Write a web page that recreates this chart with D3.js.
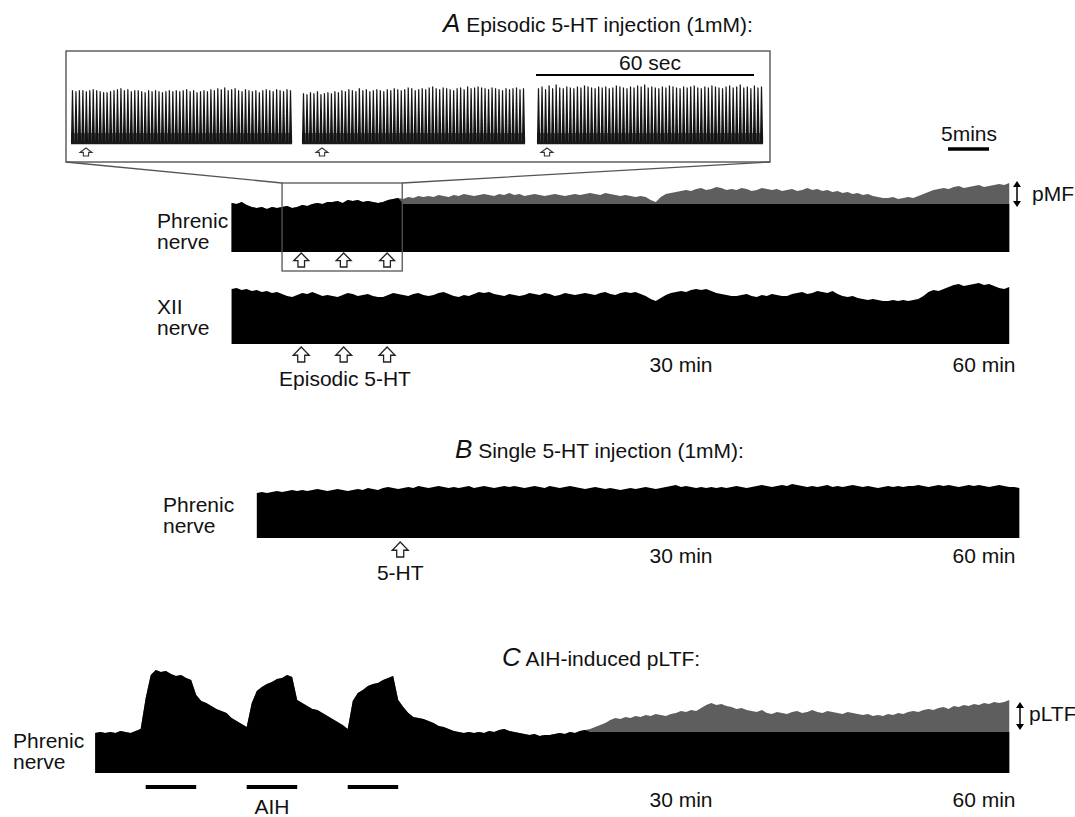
<!DOCTYPE html>
<html>
<head>
<meta charset="utf-8">
<script src="https://cdn.jsdelivr.net/npm/d3@7"></script>
<style>
  body { margin: 0; background: #fff; }
  text { font-family: "Liberation Sans", Arial, sans-serif; fill: #111; }
</style>
</head>
<body>
<div id="chart"></div>
<script>
// sampled every 0.5 min, amplitude in arbitrary units
const STEP = 0.5;

const phrenicAStart = -14.5;
const phrenicA = [
  49,48,50,47,45,44,45,43,45,44, 45,46,44,45,47,46,48,49,48,50,
  50,51,49,52,51,52,50,51,50,49, 50,52,53,54,53,55,54,56,55,56,
  55,57,56,55,57,56,58,57,56,57, 58,57,56,58,57,59,57,58,56,57,
  58,57,56,57,58,57,56,57,58,57, 58,59,58,57,59,58,57,56,57,56,
  55,56,55,52,50,55,58,59,60,61, 62,61,63,64,62,63,65,64,62,63,
  62,64,63,61,62,64,63,62,63,61, 62,63,61,62,64,62,63,61,62,60,
  61,59,60,58,59,57,58,56,55,54, 54,55,53,54,55,54,56,58,60,62,
  63,64,63,65,66,64,65,66,67,65, 66,67,68,67,69
];
const phrenicABase = 48;
const phrenicAGrayFrom = 2.5;

const xiiStart = -14.5;
const xiiTop = [
  55,56,54,55,53,54,52,53,51,52, 50,48,47,49,51,50,52,50,48,49,
  48,47,49,51,50,48,49,50,48,47, 47,49,51,50,49,48,50,51,49,48,
  49,51,52,50,48,47,49,48,50,52, 51,52,50,49,48,50,49,48,49,51,
  50,49,51,50,48,49,51,50,49,50, 51,50,49,51,52,50,49,51,52,51,
  52,50,48,45,43,46,49,51,52,53, 52,54,55,54,55,53,51,50,49,48,
  48,49,50,48,47,49,48,50,49,48, 48,50,51,52,50,51,53,52,51,53,
  50,48,47,48,46,45,44,45,44,43, 43,44,43,44,43,44,45,48,52,54,
  53,55,57,59,60,58,59,60,61,59, 60,58,56,55,57
];

const phrenicBStart = -12;
const phrenicB = [
  45,46,45,46,47,46,47,48,47,48, 47,48,49,48,47,48,49,48,47,48,
  49,48,50,49,48,50,51,50,49,50, 51,50,52,51,50,51,52,51,50,51,
  50,51,52,50,51,52,51,50,51,52, 51,52,51,50,51,52,51,50,52,51,
  50,51,52,51,50,49,50,51,50,49, 50,49,48,49,50,49,50,51,50,49,
  50,51,52,53,51,52,51,50,51,50, 51,50,51,50,51,52,51,50,51,52,
  53,52,51,52,53,52,54,53,52,51, 52,51,52,53,51,52,51,52,53,52,
  51,52,51,50,51,52,51,52,51,52, 52,53,52,51,52,53,52,53,52,51,
  52,53,52,53,52,51,52,53,52,51, 51,50
];

const phrenicCStart = -28;
const phrenicC = [
  40,41,40,41,40,42,41,40,42,44, 75,98,103,101,102,99,97,98,95,93,
  78,72,70,67,64,62,60,55,52,49, 46,70,82,86,89,91,94,95,98,96,
  73,70,67,64,63,60,57,54,51,48, 44,72,80,83,87,89,90,93,95,97,
  73,66,60,56,55,54,52,50,47,46, 44,42,41,40,41,40,41,40,42,41,
  43,44,42,41,40,39,38,39,37,38, 38,39,40,39,41,40,42,43,44,46,
  48,50,53,55,54,56,55,57,56,58, 57,59,58,57,59,60,62,61,63,62,
  65,68,70,68,69,67,66,64,65,63, 62,61,63,60,59,61,60,59,61,62,
  60,61,63,61,60,62,61,60,59,61, 60,59,58,59,57,58,57,59,58,60,
  59,61,62,61,63,64,63,65,66,64, 67,66,68,67,69,68,70,69,71,70,
  71,73
];
const phrenicCBase = 41;
const phrenicCGrayFrom = 21;

// inset: burst amplitudes in three 60 s windows
const insetSeg1 = [54,53,54,54,53,54,55,54,53,52,52,53,54,55,56,54,55,53,54,54,53,52,54,53,54,53,52,53,54,53,54,53,54,55,53,54,52,53,54,53,55,54,56,55,57,54,55,56,54,53,55,54,53,54,52,54,55,54,53,55,54,53,55,54];
const insetSeg2 = [51,50,52,51,53,50,51,52,51,53,52,54,53,55,54,53,56,54,55,53,54,55,54,53,55,54,56,55,54,55,57,56,54,55,56,55,57,58,56,55,57,56,55,54,56,57,55,58,56,57,58,57,56,55,57,56,55,54,56,55,56,57,55,56];
const insetSeg3 = [56,58,55,59,56,60,57,56,58,57,56,58,57,59,58,57,56,58,57,58,56,57,59,58,57,56,58,57,59,58,60,57,58,57,56,58,57,59,58,57,56,58,57,58,59,57,56,58,57,59,58,57,56,58,59,57,58,60,57,58,56,59,57,58];

const injectionsA = [-7.6, -3.4, 0.9];
const injectionsB = [2.2];
const aihBouts = [[-23, -18], [-13, -8], [-3, 2]];
const timeTicks = [30, 60];

const width = 1075, height = 817;
const svg = d3.select("#chart").append("svg")
  .attr("width", width)
  .attr("height", height);

// shared time scale (minutes)
const x = d3.scaleLinear().domain([0, 60]).range([378, 984]);

const toSeries = (start, vals) => vals.map((v, i) => ({ t: start + i * STEP, v }));

const yA = d3.scaleLinear().domain([0, 100]).range([252, 152]);
const yX = d3.scaleLinear().domain([0, 100]).range([344, 244]);
const yB = d3.scaleLinear().domain([0, 100]).range([538, 438]);
const yC = d3.scaleLinear().domain([0, 100]).range([773, 673]);
const yI = d3.scaleLinear().domain([0, 100]).range([143, 45]);

const FS = 21;

function label(txt, px, py, opts = {}) {
  return svg.append("text")
    .attr("x", px).attr("y", py)
    .attr("text-anchor", opts.anchor || "start")
    .style("font-size", (opts.size || FS) + "px")
    .text(txt);
}

function upArrow(cx, top, w, h) {
  const hw = w / 2, sw = w * 0.22, hh = h * 0.55;
  return `M${cx},${top} L${cx + hw},${top + hh} L${cx + sw},${top + hh} L${cx + sw},${top + h} ` +
    `L${cx - sw},${top + h} L${cx - sw},${top + hh} L${cx - hw},${top + hh} Z`;
}

function drawArrows(times, top, w, h) {
  svg.append("g").selectAll("path")
    .data(times)
    .enter().append("path")
    .attr("d", t => upArrow(x(t), top, w, h))
    .attr("fill", "#fff")
    .attr("stroke", "#222")
    .attr("stroke-width", 1.3)
    .attr("stroke-linejoin", "miter");
}

function drawTrace(series, y, base, grayFrom) {
  const g = svg.append("g");
  if (base != null) {
    g.append("path")
      .datum(series)
      .attr("d", d3.area().x(d => x(d.t)).y0(y(0)).y1(d => y(d.v)))
      .attr("fill", "#5e5e5e");
  }
  g.append("path")
    .datum(series)
    .attr("d", d3.area()
      .x(d => x(d.t))
      .y0(y(0))
      .y1(d => (base != null && d.t >= grayFrom) ? y(Math.min(d.v, base)) : y(d.v)))
    .attr("fill", "#000");
  return g;
}

function timeLabels(py) {
  svg.append("g").selectAll("text")
    .data(timeTicks)
    .enter().append("text")
    .attr("x", d => x(d))
    .attr("y", py)
    .attr("text-anchor", "middle")
    .style("font-size", FS + "px")
    .text(d => d + " min");
}

function title(letter, rest, px, py) {
  const t = svg.append("text").attr("x", px).attr("y", py);
  t.append("tspan").style("font-style", "italic").style("font-size", "26px").text(letter);
  t.append("tspan").style("font-size", FS + "px").text(" " + rest);
}

function doubleArrow(px, y1, y2) {
  const g = svg.append("g");
  g.append("line").attr("x1", px).attr("x2", px).attr("y1", y1 + 4).attr("y2", y2 - 4)
    .attr("stroke", "#000").attr("stroke-width", 1.5);
  g.append("path").attr("d", `M${px},${y1} L${px + 4},${y1 + 6} L${px - 4},${y1 + 6} Z`).attr("fill", "#000");
  g.append("path").attr("d", `M${px},${y2} L${px + 4},${y2 - 6} L${px - 4},${y2 - 6} Z`).attr("fill", "#000");
}

// ---------- Panel A ----------
title("A", "Episodic 5-HT injection (1mM):", 443, 32);

// inset box with raw bursts
svg.append("rect")
  .attr("x", 66).attr("y", 51).attr("width", 704).attr("height", 111)
  .attr("fill", "#fff").attr("stroke", "#555").attr("stroke-width", 1.4);

const segments = [
  { vals: insetSeg1, x0: 71, x1: 292, arrow: 86 },
  { vals: insetSeg2, x0: 302, x1: 525, arrow: 322 },
  { vals: insetSeg3, x0: 537, x1: 763, arrow: 547 }
];

segments.forEach(seg => {
  const xs = d3.scaleLinear().domain([0, seg.vals.length - 1]).range([seg.x0 + 1.5, seg.x1 - 1.5]);
  const g = svg.append("g");
  // soft dark band where bursts merge near baseline
  g.append("rect")
    .attr("x", seg.x0).attr("y", yI(0) - 10)
    .attr("width", seg.x1 - seg.x0).attr("height", 10)
    .attr("fill", "#6a6a6a");
  g.selectAll("path")
    .data(seg.vals)
    .enter().append("path")
    .attr("d", (v, i) => {
      const cx = xs(i), top = yI(v), b = yI(0);
      return `M${cx - 1.6},${b} L${cx - 0.6},${top} L${cx + 0.6},${top + 0.5} L${cx + 1.7},${b} Z`;
    })
    .attr("fill", "#151515");
  g.append("line")
    .attr("x1", seg.x0).attr("x2", seg.x1)
    .attr("y1", yI(0)).attr("y2", yI(0))
    .attr("stroke", "#1a1a1a").attr("stroke-width", 2.5);
  g.append("path")
    .attr("d", upArrow(seg.arrow, 148, 12, 8))
    .attr("fill", "#fff").attr("stroke", "#333").attr("stroke-width", 1.1);
});

// 60 sec bar
svg.append("line").attr("x1", 536).attr("x2", 754).attr("y1", 75).attr("y2", 75)
  .attr("stroke", "#000").attr("stroke-width", 2);
label("60 sec", 650, 70, { anchor: "middle" });

// 5 min scale bar
label("5mins", 969, 141, { anchor: "middle" });
svg.append("line").attr("x1", 948).attr("x2", 989).attr("y1", 149).attr("y2", 149)
  .attr("stroke", "#000").attr("stroke-width", 3.5);

// zoom lines from small box to inset
const boxT0 = -9.5, boxT1 = 2.4;
svg.append("path")
  .attr("d", `M66,162 L${x(boxT0)},183 M770,162 L${x(boxT1)},183`)
  .attr("fill", "none").attr("stroke", "#555").attr("stroke-width", 1.3);

drawTrace(toSeries(phrenicAStart, phrenicA), yA, phrenicABase, phrenicAGrayFrom);

svg.append("rect")
  .attr("x", x(boxT0)).attr("y", 183)
  .attr("width", x(boxT1) - x(boxT0)).attr("height", 88)
  .attr("fill", "none").attr("stroke", "#555").attr("stroke-width", 1.3);
drawArrows(injectionsA, 253, 15, 14);

label("Phrenic", 157, 228);
label("nerve", 157, 249);
doubleArrow(1017, 181, 207);
label("pMF", 1032, 201);

// XII nerve
drawTrace(toSeries(xiiStart, xiiTop), yX, null, null);
label("XII", 157, 314);
label("nerve", 157, 335);
drawArrows(injectionsA, 347, 16, 15);
label("Episodic 5-HT", 345, 386, { anchor: "middle" });
timeLabels(372);

// ---------- Panel B ----------
title("B", "Single 5-HT injection (1mM):", 455, 458);
drawTrace(toSeries(phrenicBStart, phrenicB), yB, null, null);
label("Phrenic", 163, 512);
label("nerve", 163, 533);
drawArrows(injectionsB, 542, 16, 15);
label("5-HT", x(injectionsB[0]), 580, { anchor: "middle" });
timeLabels(563);

// ---------- Panel C ----------
title("C", "AIH-induced pLTF:", 502, 666);
drawTrace(toSeries(phrenicCStart, phrenicC), yC, phrenicCBase, phrenicCGrayFrom);
label("Phrenic", 13, 748);
label("nerve", 13, 769);
svg.append("g").selectAll("line")
  .data(aihBouts)
  .enter().append("line")
  .attr("x1", d => x(d[0])).attr("x2", d => x(d[1]))
  .attr("y1", 787).attr("y2", 787)
  .attr("stroke", "#000").attr("stroke-width", 4);
label("AIH", x((aihBouts[1][0] + aihBouts[1][1]) / 2), 814, { anchor: "middle" });
doubleArrow(1020, 702, 730);
label("pLTF", 1029, 721);
timeLabels(807);
</script>
</body>
</html>
